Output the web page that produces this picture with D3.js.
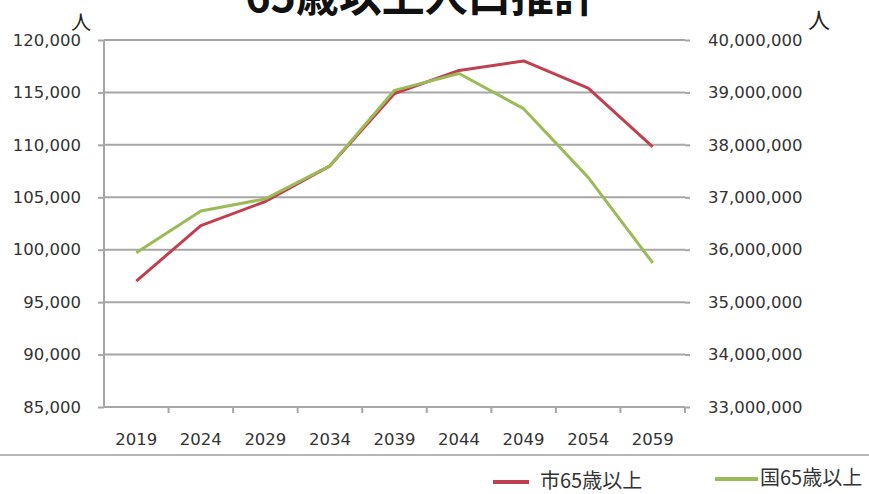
<!DOCTYPE html>
<head>
<meta charset="UTF-8">
<script src="https://cdn.jsdelivr.net/npm/d3@7"></script>
<style>
body { margin: 0; background: #fff; }
svg { display: block; font-family: "Noto Sans CJK JP", "Noto Sans", sans-serif; }
.grid line { stroke: #a6a6a6; stroke-width: 2px; }
.axis text { fill: #333; font-size: 16.5px; font-family: "DejaVu Sans", sans-serif; }
.axis path, .axis line { stroke: #a6a6a6; stroke-width: 2px; }
.line { fill: none; stroke-width: 3px; stroke-linejoin: round; }
</style>
</head>
<body>
<script>

var years = ["2019", "2024", "2029", "2034", "2039", "2044", "2049", "2054", "2059"];
var cityValues = [97000, 102300, 104600, 108000, 114900, 117100, 118000, 115400, 109800];
var nationValues = [35940000, 36740000, 36970000, 37600000, 39040000, 39360000, 38690000, 37380000, 35750000];
var leftTicks = [85000, 90000, 95000, 100000, 105000, 110000, 115000, 120000];
var rightTicks = [33000000, 34000000, 35000000, 36000000, 37000000, 38000000, 39000000, 40000000];
var seriesNames = ["市65歳以上", "国65歳以上"];
var colors = ["#c0404f", "#9bbb59"];

var width = 869, height = 494;
var plotLeft = 104, plotRight = 685, plotTop = 40, plotBottom = 407;

var svg = d3.select("body").append("svg")
    .attr("width", width)
    .attr("height", height);

var x = d3.scaleBand().domain(years).range([plotLeft, plotRight]);
var yL = d3.scaleLinear().domain([85000, 120000]).range([plotBottom, plotTop]);
var yR = d3.scaleLinear().domain([33000000, 40000000]).range([plotBottom, plotTop]);

// title (top is cut off in the reference)
svg.append("text")
    .attr("x", 421).attr("y", 12)
    .attr("text-anchor", "middle")
    .style("font-size", "43px")
    .style("font-weight", "bold")
    .attr("fill", "#111")
    .text("65歳以上人口推計");

// gridlines
svg.append("g").attr("class", "grid")
  .selectAll("line")
  .data(leftTicks.slice(1))
  .enter().append("line")
    .attr("x1", plotLeft).attr("x2", plotRight)
    .attr("y1", d => yL(d)).attr("y2", d => yL(d));

// left axis
var fmt = d3.format(",");
svg.append("g").attr("class", "axis")
    .attr("transform", "translate(" + plotLeft + ",0)")
    .call(d3.axisLeft(yL).tickValues(leftTicks).tickFormat(fmt).tickSize(6).tickPadding(17))
    .call(g => g.select(".domain").attr("d", "M0," + plotTop + "V" + plotBottom));

// right axis labels (no line)
svg.append("g").attr("class", "axis")
    .attr("transform", "translate(" + plotRight + ",0)")
    .call(d3.axisRight(yR).tickValues(rightTicks).tickFormat(fmt).tickSize(5).tickPadding(18))
    .call(g => g.select(".domain").remove());

// bottom axis with ticks between categories
var xAxis = svg.append("g").attr("class", "axis")
    .attr("transform", "translate(0," + plotBottom + ")");
xAxis.append("line")
    .attr("x1", plotLeft).attr("x2", plotRight)
    .attr("y1", 0).attr("y2", 0);
xAxis.selectAll(".tk")
  .data(years)
  .enter().append("line")
    .attr("class", "tk")
    .attr("x1", (d, i) => plotLeft + x.step() * (i + 1))
    .attr("x2", (d, i) => plotLeft + x.step() * (i + 1))
    .attr("y1", 0).attr("y2", 6);
xAxis.selectAll(".lbl")
  .data(years)
  .enter().append("text")
    .attr("class", "lbl")
    .attr("x", d => x(d) + x.bandwidth() / 2)
    .attr("y", 38)
    .attr("text-anchor", "middle")
    .text(d => d);

// unit labels
svg.append("text").attr("x", 71).attr("y", 30).style("font-size", "20px").attr("fill", "#222").text("人");
svg.append("text").attr("x", 808).attr("y", 28).style("font-size", "22px").attr("fill", "#222").text("人");

// lines
var cityLine = d3.line()
    .x((d, i) => x(years[i]) + x.bandwidth() / 2)
    .y(d => yL(d));
var nationLine = d3.line()
    .x((d, i) => x(years[i]) + x.bandwidth() / 2)
    .y(d => yR(d));

svg.append("path").datum(cityValues)
    .attr("class", "line")
    .attr("stroke", colors[0])
    .attr("d", cityLine);

svg.append("path").datum(nationValues)
    .attr("class", "line")
    .attr("stroke", colors[1])
    .attr("d", nationLine);

// separator
svg.append("line")
    .attr("x1", 0).attr("x2", width)
    .attr("y1", 455).attr("y2", 455)
    .attr("stroke", "#b5b5b5").attr("stroke-width", 2);

// legend
var legendPos = [{lx: 493, ly: 482, len: 36, tx: 540}, {lx: 715, ly: 479, len: 43, tx: 760}];
var legend = svg.selectAll(".legend")
  .data(seriesNames)
  .enter().append("g");
legend.append("line")
    .attr("x1", (d, i) => legendPos[i].lx)
    .attr("x2", (d, i) => legendPos[i].lx + legendPos[i].len)
    .attr("y1", (d, i) => legendPos[i].ly)
    .attr("y2", (d, i) => legendPos[i].ly)
    .attr("stroke", (d, i) => colors[i])
    .attr("stroke-width", 4);
legend.append("text")
    .attr("x", (d, i) => legendPos[i].tx)
    .attr("y", (d, i) => legendPos[i].ly + 6)
    .style("font-size", "20px")
    .attr("fill", "#333")
    .text(d => d);

</script>
</body>
